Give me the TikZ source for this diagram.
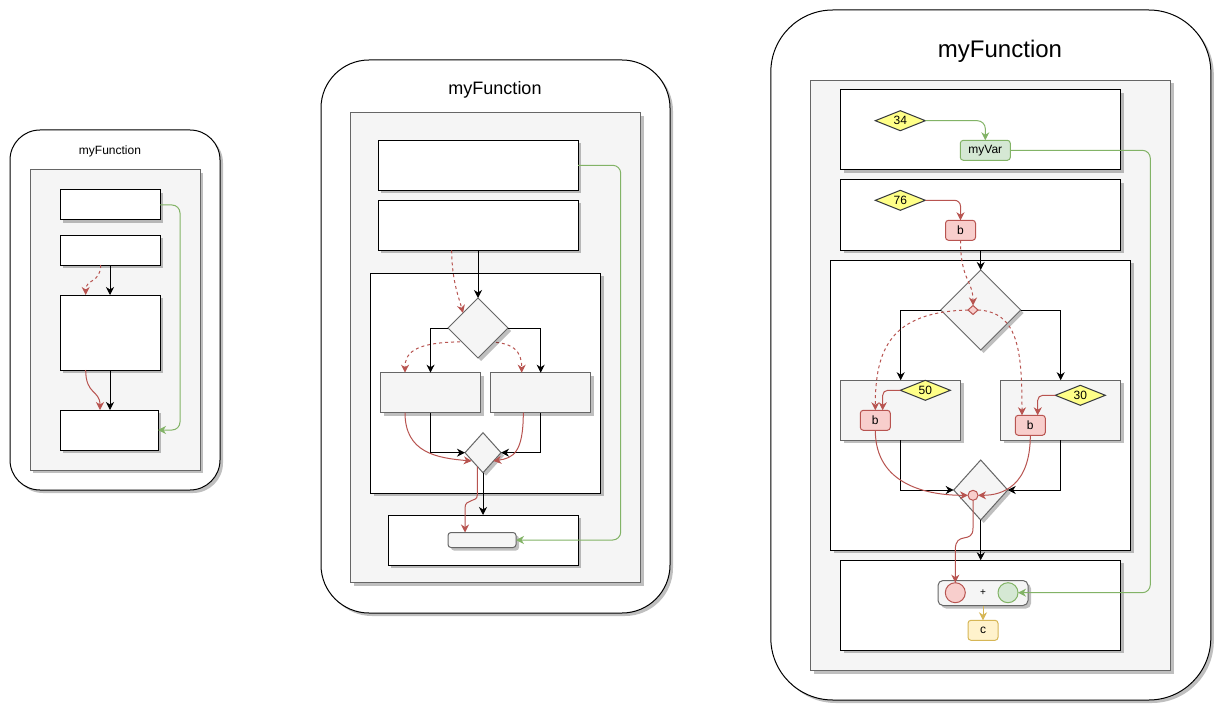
\documentclass[tikz,border=0pt]{standalone}
\usepackage{fontspec}
\setmainfont{Liberation Sans}
\usetikzlibrary{arrows.meta,shapes.geometric,shadows,calc}
\definecolor{redS}{HTML}{B85450}
\definecolor{redF}{HTML}{F8CECC}
\definecolor{greenS}{HTML}{82B366}
\definecolor{greenF}{HTML}{D5E8D4}
\definecolor{yelS}{HTML}{D6B656}
\definecolor{yelF}{HTML}{FFF2CC}
\definecolor{yellowD}{HTML}{FFFF88}
\definecolor{darkS}{HTML}{36393D}
\definecolor{grayS}{HTML}{666666}
\definecolor{grayF}{HTML}{F5F5F5}
\begin{document}
\begin{tikzpicture}[x=1pt,y=-1pt,
  shd/.style={drop shadow={shadow xshift=3pt,shadow yshift=-3pt,fill=black,opacity=0.25}},
  base/.style={inner sep=0pt,outer sep=0pt,line width=1pt},
  panel/.style={base,draw=black,fill=white,shd},
  grayrect/.style={base,draw=grayS,fill=grayF,shd},
  wbox/.style={base,draw=black,fill=white,shd},
  gdia/.style={base,diamond,draw=grayS,fill=grayF,shd},
  ydia/.style={base,diamond,aspect=2.5,draw=darkS,fill=yellowD,font=\fontsize{12}{14}\selectfont},
  rbox/.style={base,rounded corners=3pt,draw=redS,fill=redF,font=\fontsize{12}{14}\selectfont},
  gvar/.style={base,rounded corners=3pt,draw=greenS,fill=greenF,font=\fontsize{12}{14}\selectfont},
  ybox/.style={base,rounded corners=3pt,draw=yelS,fill=yelF,font=\fontsize{12}{14}\selectfont},
  title/.style={inner sep=0pt},
  arr/.style={-{Stealth[length=8pt,width=8pt,inset=2.5pt]}},
  blk/.style={arr,line width=1pt,draw=black},
  redl/.style={arr,line width=1pt,draw=redS},
  dsh/.style={dash pattern=on 3pt off 3pt},
  grn/.style={arr,line width=1pt,draw=greenS,rounded corners=8pt},
  yel/.style={arr,line width=1pt,draw=yelS},
]
\useasboundingbox (0,0) rectangle (1223,714);

% ================= Panel 1 =================
\node[panel,rounded corners=30pt,minimum width=210,minimum height=360] (outer1) at (115,310) {};
\node[title,font=\fontsize{12}{14}\selectfont] (t1) at (110,151.5) {myFunction};
\node[grayrect,minimum width=170,minimum height=300] (gray1) at (115,320) {};
\node[wbox,minimum width=100,minimum height=30] (b1a) at (110,205) {};
\node[wbox,minimum width=100,minimum height=30] (b1b) at (110,250) {};
\node[wbox,minimum width=100,minimum height=75] (b1c) at (110,332.5) {};
\node[wbox,minimum width=98,minimum height=40] (b1d) at (109,430) {};
\coordinate (w1a) at (180,205);
\coordinate (w1b) at (180,430);
\draw[blk] (b1b.south) -- (b1c.north);
\draw[blk] (b1c.south) -- (b1c.south |- b1d.north);
\draw[redl,dsh] ($(b1b.south)+(-9.3,0)$) .. controls +(0,18) and +(0,-16) .. ($(b1c.north)+(-24.3,0)$);
\draw[redl] ($(b1c.south)+(-24.3,0)$) .. controls +(0,25) and +(0,-20) .. ($(b1d.north)+(-9,0)$);
\draw[grn] (b1a.east) -- (w1a) -- (w1b) -- (b1d.east);

% ================= Panel 2 =================
\node[panel,rounded corners=48pt,minimum width=349,minimum height=553] (outer2) at (495.5,336.5) {};
\node[title,font=\fontsize{18}{22}\selectfont] (t2) at (495,90) {myFunction};
\node[grayrect,minimum width=290,minimum height=470] (gray2) at (495.7,347.7) {};
\node[wbox,minimum width=200,minimum height=50] (A2) at (478,165.3) {};
\node[wbox,minimum width=200,minimum height=50] (B2) at (478,225.3) {};
\node[wbox,minimum width=230,minimum height=220] (C2) at (485.5,383.2) {};
\node[grayrect,minimum width=100,minimum height=40] (L2) at (430.5,392.7) {};
\node[grayrect,minimum width=100,minimum height=40] (R2) at (540.7,392.7) {};
\coordinate (h2) at (478,342);
\draw[redl,dsh] (h2) .. controls (415,340) and (405,352) .. ($(L2.north)+(-25.5,0)$);
\draw[redl,dsh] (h2) .. controls (515,340) and (521.7,352) .. ($(R2.north)+(-19,0)$);
\node[gdia,minimum width=60,minimum height=60] (dia2) at (478,328) {};
\node[gdia,minimum width=36,minimum height=40] (dia2b) at (483,452.7) {};
\node[wbox,minimum width=190,minimum height=50] (D2) at (483,540) {};
\node[grayrect,rounded corners=3pt,minimum width=68,minimum height=15] (small2) at (482,540) {};
\coordinate (w2a) at (620.7,165.3);
\coordinate (w2b) at (620.7,540);
\draw[blk] (B2.south) -- (dia2.north);
\draw[redl,dsh] ($(B2.south)+(-26.3,0)$) .. controls +(0,30) and +(-4,-15) .. (dia2.north west);
\draw[blk] (dia2.west) -| (L2.north);
\draw[blk] (dia2.east) -| (R2.north);
\draw[blk] (L2.south) |- (dia2b.west);
\draw[blk] (R2.south) |- (dia2b.east);
\draw[redl] ($(L2.south)+(-25.5,0)$) .. controls +(0,40) and +(-35,-3) .. (471.7,461);
\draw[redl] ($(R2.south)+(-17.4,0)$) .. controls +(0,40) and +(20,-3) .. (493.3,461);
\draw[blk] (dia2b.south) -- (D2.north);
\draw[redl] (477.3,466.5) -- (477.3,495) .. controls (477.3,503) and (465,498) .. (465,508) -- ($(small2.north)+(-17,0)$);
\draw[grn] (A2.east) -- (w2a) -- (w2b) -- (small2.east);

% ================= Panel 3 =================
\node[panel,rounded corners=62pt,minimum width=440,minimum height=690] (outer3) at (990.8,355) {};
\node[title,font=\fontsize{24}{29}\selectfont] (t3) at (1000,51.7) {myFunction};
\node[grayrect,minimum width=360,minimum height=590] (gray3) at (990.5,375.5) {};
\node[wbox,minimum width=280,minimum height=80] (E3) at (980.5,130) {};
\node[wbox,minimum width=280,minimum height=70] (F3) at (980.5,215) {};
\node[wbox,minimum width=300,minimum height=290] (G3) at (980.7,405.2) {};
\node[wbox,minimum width=280,minimum height=90] (H3) at (980.7,605.3) {};
\node[ydia,minimum width=50,minimum height=20] (d34) at (900.3,120.7) {34};
\node[gvar,minimum width=50,minimum height=20] (myVar) at (985.3,150.3) {myVar};
\node[ydia,minimum width=50,minimum height=20] (d76) at (900.3,200.3) {76};
\node[rbox,minimum width=30,minimum height=20] (b3) at (960.5,230.3) {b};
\node[gdia,minimum width=80,minimum height=80] (dia3) at (980.7,310) {};
\node[base,diamond,draw=redS,fill=redF,minimum width=10,minimum height=9] (sd3) at (973,310) {};
\node[grayrect,minimum width=120,minimum height=60] (L3) at (900.7,410.2) {};
\node[grayrect,minimum width=120,minimum height=60] (R3) at (1060.7,410.2) {};
\node[ydia,minimum width=50,minimum height=20] (d50) at (925.3,390.3) {50};
\node[ydia,minimum width=50,minimum height=20] (d30) at (1080.3,395.3) {30};
\node[rbox,minimum width=30,minimum height=20] (bL) at (875.3,420.3) {b};
\node[rbox,minimum width=30,minimum height=20] (bR) at (1030.3,425.3) {b};
\node[gdia,minimum width=54,minimum height=60] (dia3b) at (980.7,490) {};
\node[base,circle,draw=redS,fill=redF,minimum size=10] (cir3) at (973,495.3) {};
\node[grayrect,rounded corners=5pt,minimum width=90,minimum height=25] (plusr) at (983,593) {};
\node[base,font=\fontsize{10}{12}\selectfont] (plus) at (983,593) {+};
\node[base,circle,draw=redS,fill=redF,minimum size=20] (redc) at (955.3,592.7) {};
\node[base,circle,draw=greenS,fill=greenF,minimum size=20] (greenc) at (1008,592.7) {};
\node[ybox,minimum width=30,minimum height=20] (cbox) at (983,630.3) {c};
\coordinate (w3a) at (1150.3,150.3);
\coordinate (w3b) at (1150.3,592.7);
\draw[grn] (d34.east) -| (myVar.north);
\draw[grn] (myVar.east) -- (w3a) -- (w3b) -- (greenc.east);
\draw[redl,rounded corners=6pt] (d76.east) -| (b3.north);
\draw[redl,dsh] (b3.south) .. controls +(0,40) and +(0,-25) .. (sd3.north);
\draw[blk] (dia3.north |- F3.south) -- (dia3.north);
\draw[blk] (dia3.west) -| (L3.north);
\draw[blk] (dia3.east) -| (R3.north);
\draw[redl,rounded corners=5pt] (d50.west) -| ($(bL.north)+(7.4,0)$);
\draw[redl,rounded corners=5pt] (d30.west) -| ($(bR.north)+(7.4,0)$);
\draw[redl,dsh] (sd3.west) .. controls (890,312) and (875.3,350) .. (bL.north);
\draw[redl,dsh] (sd3.east) .. controls (1018,312) and (1022,350) .. ($(bR.north)+(-8.3,0)$);
\draw[blk] (L3.south) |- (dia3b.west);
\draw[blk] (R3.south) |- (dia3b.east);
\draw[redl] (bL.south) .. controls +(0,55) and +(-40,0) .. (cir3.west);
\draw[redl] (bR.south) .. controls +(0,50) and +(25,0) .. (cir3.east);
\draw[blk] (dia3b.south) -- (H3.north);
\draw[redl] (cir3.south) -- (973,528) .. controls (973,545) and (955.3,530) .. (955.3,550) -- (redc.north);
\draw[yel] (plusr.south) -- (cbox.north);
\end{tikzpicture}
\end{document}
